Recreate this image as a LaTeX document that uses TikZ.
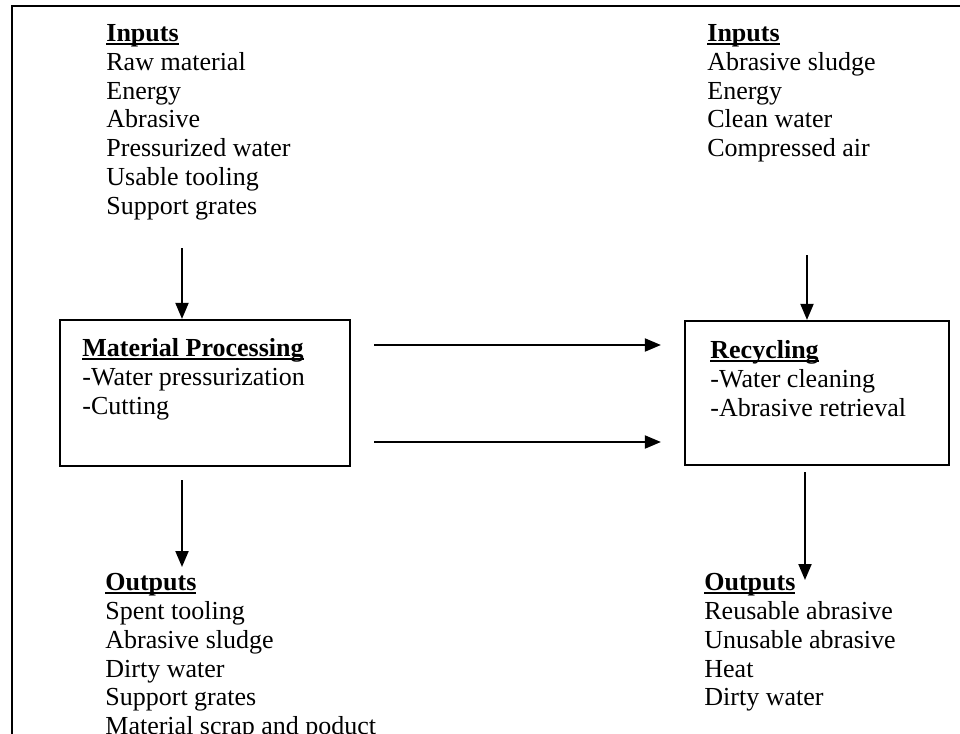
\documentclass[tikz,border=0pt]{standalone}
\usepackage{fontspec}
\setmainfont{Liberation Serif}
\usetikzlibrary{positioning,arrows.meta}

\newcommand{\headline}[1]{\setbox0\hbox{\bfseries #1}\rlap{\usebox0}\rule[-1.7pt]{\wd0}{0.9pt}}

\begin{document}
\begin{tikzpicture}[
  x=0.5pt,y=-0.5pt,
  list/.style={align=left,anchor=north west,inner sep=0pt,font=\fontsize{13}{14.4}\selectfont},
  stage/.style={draw,line width=1.1pt,inner sep=0pt},
  flow/.style={line width=1pt,-{Triangle[length=8pt,width=6.5pt]}},
  gap/.style={shorten <=11.5pt,shorten >=11.5pt},
]
  \useasboundingbox (0,0) rectangle (960,734);

  % frame (only top and left edges show)
  \draw[line width=1.3pt] (12,740) -- (12,6) -- (966,6);

  % process boxes
  \node[stage,minimum width=145pt,minimum height=73pt] (proc) at (205,393) {};
  \node[stage,minimum width=132pt,minimum height=72pt] (recyc) at (817,393) {};

  \node[list] (proctext) at (82,338) {\headline{Material Processing}\\-Water pressurization\\-Cutting};
  \node[list] (recyctext) at (710,340) {\headline{Recycling}\\-Water cleaning\\-Abrasive retrieval};

  % inputs
  \node[list] (inL) at (106,24) {\headline{Inputs}\\Raw material\\Energy\\Abrasive\\Pressurized water\\Usable tooling\\Support grates};
  \node[list] (inR) at (707,24) {\headline{Inputs}\\Abrasive sludge\\Energy\\Clean water\\Compressed air};

  % outputs
  \node[list] (outL) at (105,573) {\headline{Outputs}\\Spent tooling\\Abrasive sludge\\Dirty water\\Support grates\\Material scrap and poduct};
  \node[list] (outR) at (704,573) {\headline{Outputs}\\Reusable abrasive\\Unusable abrasive\\Heat\\Dirty water};

  % arrow ends
  \coordinate (inLtail) at (182,248);
  \coordinate (inRtail) at (807,255);
  \coordinate (outLtail) at (182,480);
  \coordinate (outLtip) at (182,567);
  \coordinate (outRtail) at (805,472);
  \coordinate (outRtip) at (805,580);

  \draw[flow] (inLtail) -- (inLtail |- proc.north);
  \draw[flow] (inRtail) -- (inRtail |- recyc.north);
  \draw[flow] (outLtail) -- (outLtip);
  \draw[flow] (outRtail) -- (outRtip);

  \draw[flow,gap] ([yshift=24pt]proc.east) -- ([yshift=24pt]proc.east -| recyc.west);
  \draw[flow,gap] ([yshift=-24.5pt]proc.east) -- ([yshift=-24.5pt]proc.east -| recyc.west);
\end{tikzpicture}
\end{document}
